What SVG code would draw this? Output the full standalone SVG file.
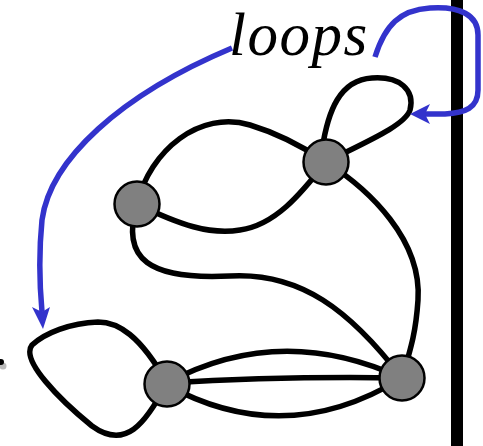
<svg xmlns="http://www.w3.org/2000/svg" width="483" height="446" viewBox="0 0 483 446">
<style>
.e{fill:none;stroke:#000;stroke-width:5.5;stroke-linecap:round}
.b{fill:none;stroke:#3333cc;stroke-width:5.5}
.n{fill:#808080;stroke:#000;stroke-width:2.5}
.t{font-family:"Liberation Serif",serif;font-style:italic;font-size:61px;letter-spacing:1.5px;fill:#000}
</style>
<rect width="483" height="446" fill="#fff"/>
<rect x="451" y="0" width="12" height="446" fill="#000"/>
<circle cx="3" cy="366" r="3.5" fill="#bbb"/>
<circle cx="1" cy="362" r="3" fill="#000"/>
<g id="edges">
<path class="e" d="M137,204 C150,150 200,110 250,125 C280,134 305,148 326,162"/>
<path class="e" d="M137,204 C180,225 210,235 240,230 C275,225 300,195 326,162"/>
<path class="e" d="M137,204 C120,260 150,280 230,276 C300,272 350,310 402,378"/>
<path class="e" d="M326,162 C370,190 422,240 418,300 C416,330 412,345 402,378"/>
<path class="e" d="M322,150 C328,110 340,80 372,78 C400,76 415,90 410,110 C405,125 370,140 330,160"/>
<path class="e" d="M167,383 C140,335 118,322 98,322 C70,323 45,333 32,345 C20,360 60,400 92,426 C125,450 145,425 167,383"/>
<path class="e" d="M167,383 Q280,322 402,378"/>
<path class="e" d="M167,383 Q285,376 402,378"/>
<path class="e" d="M167,385 Q285,450 402,378"/>
</g>
<g id="n1"><circle class="n" cx="137" cy="204" r="22.5"/></g>
<g id="n2"><circle class="n" cx="326" cy="162" r="22.5"/></g>
<g id="n3"><circle class="n" cx="167" cy="384" r="22.5"/></g>
<g id="n4"><circle class="n" cx="402" cy="378" r="22.5"/></g>
<g id="label"><text class="t" x="229" y="54.5">loops</text></g>
<g id="arrows">
<path class="b" d="M232,48 C120,95 50,160 42,220 C38,260 40,290 42,312"/>
<polygon points="43,329 32,307 42,312 50,307" fill="#3333cc"/>
<path class="b" d="M375,57 C385,25 400,10 430,8 C460,6 478,15 478,35 L478,90 C478,108 465,113 445,114 L424,114"/>
<polygon points="410,114 430,104 425,114 430,124" fill="#3333cc"/>
</g>
</svg>
